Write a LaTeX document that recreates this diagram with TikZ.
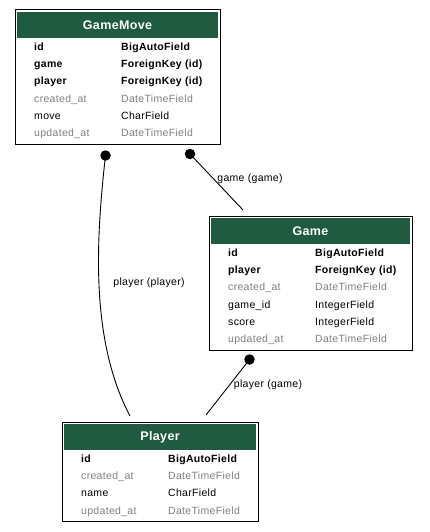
\documentclass[tikz,border=0pt]{standalone}
\usepackage{fontspec}
\setmainfont{Liberation Sans}[LetterSpace=3]
\definecolor{hdrgreen}{HTML}{1F5A41}
\definecolor{fieldgray}{HTML}{808080}
\newcommand\ertable[6]{% name, left, top, width, nrows, title
  \node[tbl, minimum width=#4pt, minimum height={(31+17.2*#5)*1pt}, anchor=north west] (#1) at (#2,#3) {};
  \fill[hdrgreen] ([xshift=2pt,yshift=-2pt]#1.north west) rectangle ([xshift=-2pt,yshift=-28pt]#1.north east);
  \node[hdrtext] (#1-title) at ({#2+#4/2},{#3+15.5}) {#6};
}
\newcommand\errow[7]{% table, left, top, index, style, name, type
  \node[#5, anchor=mid west] (#1-n#4) at ({#2+19},{#3+37.8+17.2*(#4-1)}) {#6};
  \node[#5, anchor=mid west] (#1-t#4) at ({#2+106},{#3+37.8+17.2*(#4-1)}) {#7};
}
\begin{document}
\begin{tikzpicture}[x=1pt,y=-1pt,
  tbl/.style={draw=black, line width=1pt, rectangle, inner sep=0pt, outer sep=0pt, fill=white},
  hdrtext/.style={text=white, inner sep=0pt, font=\fontsize{12.5}{14}\selectfont\bfseries},
  pk/.style={inner sep=0pt, font=\fontsize{10.5}{12}\selectfont\bfseries},
  fld/.style={inner sep=0pt, font=\fontsize{10.5}{12}\selectfont},
  autofld/.style={inner sep=0pt, text=fieldgray, font=\fontsize{10.5}{12}\selectfont},
  dot/.style={circle, fill=black, minimum size=10.5pt, inner sep=0pt},
  lbl/.style={inner sep=1pt, font=\fontsize{10.5}{12}\selectfont},
  conn/.style={draw=black, line width=0.9pt}]
\useasboundingbox (0,0) rectangle (429,532);

% GameMove
\ertable{gm}{15}{10}{205}{6}{GameMove}
\errow{gm}{15}{10}{1}{pk}{id}{BigAutoField}
\errow{gm}{15}{10}{2}{pk}{game}{ForeignKey (id)}
\errow{gm}{15}{10}{3}{pk}{player}{ForeignKey (id)}
\errow{gm}{15}{10}{4}{autofld}{created\_at}{DateTimeField}
\errow{gm}{15}{10}{5}{fld}{move}{CharField}
\errow{gm}{15}{10}{6}{autofld}{updated\_at}{DateTimeField}

% Game
\ertable{game}{209}{216}{203}{6}{Game}
\errow{game}{209}{216}{1}{pk}{id}{BigAutoField}
\errow{game}{209}{216}{2}{pk}{player}{ForeignKey (id)}
\errow{game}{209}{216}{3}{autofld}{created\_at}{DateTimeField}
\errow{game}{209}{216}{4}{fld}{game\_id}{IntegerField}
\errow{game}{209}{216}{5}{fld}{score}{IntegerField}
\errow{game}{209}{216}{6}{autofld}{updated\_at}{DateTimeField}

% Player
\ertable{pl}{62}{422}{196}{4}{Player}
\errow{pl}{62}{422}{1}{pk}{id}{BigAutoField}
\errow{pl}{62}{422}{2}{autofld}{created\_at}{DateTimeField}
\errow{pl}{62}{422}{3}{fld}{name}{CharField}
\errow{pl}{62}{422}{4}{autofld}{updated\_at}{DateTimeField}

% connectors
\node[dot] (d-gm-player) at (105.5,155.5) {};
\coordinate (e-gm-player) at (130,416);
\draw[conn] (d-gm-player.center) .. controls (96,240) and (90,340) .. (e-gm-player);
\node[lbl] (l-gm-player) at (149,283) {player (player)};

\node[dot] (d-gm-game) at (190,154) {};
\coordinate (e-gm-game) at (243,210);
\draw[conn] (d-gm-game.center) -- (e-gm-game);
\node[lbl] (l-gm-game) at (250,179) {game (game)};

\node[dot] (d-game-player) at (249.5,359.5) {};
\coordinate (e-game-player) at (206,415);
\draw[conn] (d-game-player.center) -- (e-game-player);
\node[lbl] (l-game-player) at (268,385) {player (game)};
\end{tikzpicture}
\end{document}
